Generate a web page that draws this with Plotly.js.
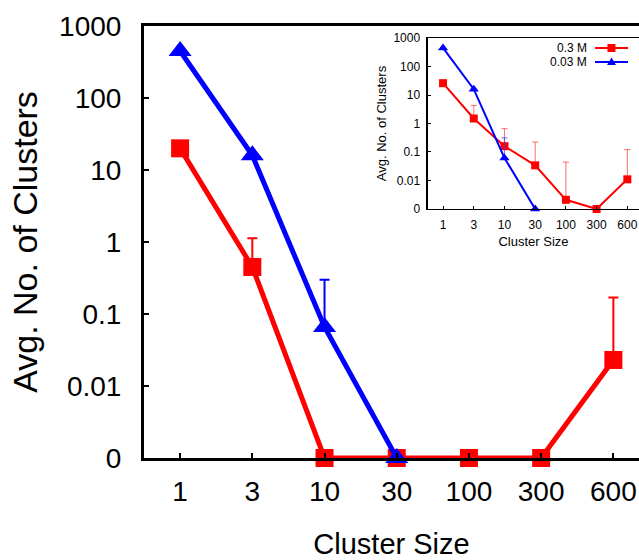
<!DOCTYPE html>
<html><head><meta charset="utf-8">
<script src="https://cdn.plot.ly/plotly-3.0.1.min.js"></script>
<style>html,body{margin:0;padding:0;background:#fff}#chart{width:639px;height:560px}</style>
</head><body><div id="chart"></div>
<script>
// ---- data ----
const categories = ['1', '3', '10', '30', '100', '300', '600'];
const yTickVals = [0.001, 0.01, 0.1, 1, 10, 100, 1000];
const yTickText = ['0', '0.01', '0.1', '1', '10', '100', '1000'];
const seriesNames = ['0.3 M', '0.03 M'];

// main panel
const main03 = [20, 0.45, 0, 0, 0, 0, 0.023];
const main03Err = [null, 0.68, null, null, null, null, 0.147];
const main003 = [450, 16, 0.066, 0, null, null, null];
const main003Err = [null, null, 0.234, null, null, null, null];

// inset panel
const inset03 = [26, 1.5, 0.16, 0.034, 0.0021, 0, 0.011];
const inset03Err = [null, 2.8, 0.5, 0.19, 0.042, null, 0.11];
const inset003 = [450, 16, 0.062, 0, null, null, null];
const inset003Err = [null, null, 0.25, null, null, null, null];

// a zero count sits on the axis floor (the "0" tick)
const ZERO_POS = 0.001;
const toAxis = arr => arr.map(v => v === null ? null : (v === 0 ? ZERO_POS : v));
const minus = arr => arr.map(e => e === null ? null : 0);

const RED = '#ff0000', BLUE = '#0000ff';
const FONT = 'Liberation Sans, Arial, Helvetica, sans-serif';

function trace(y, err, name, color, symbol, msize, lw, ew, ecap, ecolor, xa, ya) {
  return {
    x: categories, y: toAxis(y), name: name, type: 'scatter', mode: 'lines+markers',
    line: {color: color, width: lw},
    marker: {symbol: symbol, size: msize, color: color},
    error_y: {type: 'data', symmetric: false, array: err, arrayminus: minus(err),
              color: ecolor, thickness: ew, width: ecap},
    cliponaxis: false, showlegend: false, xaxis: xa, yaxis: ya
  };
}

const data = [
  trace(main03, main03Err, seriesNames[0], RED, 'square', 18, 5, 2, 5, RED, 'x', 'y'),
  trace(main003, main003Err, seriesNames[1], BLUE, 'triangle-up', 20, 5, 2, 5, BLUE, 'x', 'y'),
  trace(inset03, inset03Err, seriesNames[0], RED, 'square', 8, 2, 1, 3, 'rgba(255,60,60,0.75)', 'x2', 'y2'),
  trace(inset003, inset003Err, seriesNames[1], BLUE, 'triangle-up', 9, 2, 1, 3, 'rgba(60,60,255,0.75)', 'x2', 'y2')
];

// legend keys for the inset (text left, key right)
const legY = [48, 62];            // pixel rows
const px = x => (x - 144) / 495;  // pixel -> paper
const py = y => (458 - y) / 432;
const shapes = [], annotations = [];
[RED, BLUE].forEach((c, i) => {
  shapes.push({type: 'line', xref: 'paper', yref: 'paper', x0: px(595), x1: px(628), y0: py(legY[i]), y1: py(legY[i]),
               line: {color: c, width: 2}});
  if (i === 0) {
    shapes.push({type: 'rect', xref: 'paper', yref: 'paper', xsizemode: 'pixel', ysizemode: 'pixel',
                 xanchor: px(611.5), yanchor: py(legY[i]), x0: -4, x1: 4, y0: -4, y1: 4,
                 fillcolor: c, line: {width: 0}});
  } else {
    shapes.push({type: 'path', xref: 'paper', yref: 'paper', xsizemode: 'pixel', ysizemode: 'pixel',
                 xanchor: px(611.5), yanchor: py(legY[i]), path: 'M -4.5,-3 L 4.5,-3 L 0,4.5 Z',
                 fillcolor: c, line: {width: 0}});
  }
  annotations.push({xref: 'paper', yref: 'paper', x: px(589), y: py(legY[i]), xanchor: 'right', yanchor: 'middle',
                    text: seriesNames[i], showarrow: false, font: {family: FONT, size: 12, color: '#000'}});
});

const layout = {
  width: 639, height: 560,
  margin: {l: 144, r: 0, t: 26, b: 102},
  paper_bgcolor: '#fff', plot_bgcolor: 'rgba(0,0,0,0)',
  font: {family: FONT, color: '#000'},
  showlegend: false,
  xaxis: {
    type: 'category', range: [-0.5, 6.355], domain: [0, 1], anchor: 'y',
    showline: true, linewidth: 3, linecolor: '#000', mirror: true,
    ticks: 'inside', ticklen: 5, tickwidth: 2, tickcolor: '#000',
    showgrid: false, zeroline: false, automargin: false,
    tickfont: {family: FONT, size: 28}, ticklabelstandoff: 6,
    title: {text: 'Cluster Size', font: {family: FONT, size: 29}, standoff: 33}
  },
  yaxis: {
    type: 'log', range: [-3, 3], domain: [0, 1], anchor: 'x',
    tickmode: 'array', tickvals: yTickVals, ticktext: yTickText,
    showline: true, linewidth: 3, linecolor: '#000', mirror: false,
    ticks: 'inside', ticklen: 5, tickwidth: 2, tickcolor: '#000',
    showgrid: false, zeroline: false, automargin: false,
    tickfont: {family: FONT, size: 28}, ticklabelstandoff: 14,
    title: {text: 'Avg. No. of Clusters', font: {family: FONT, size: 34}, standoff: 12}
  },
  xaxis2: {
    type: 'category', range: [-0.49, 6.38], domain: [0.5737, 1], anchor: 'y2',
    showline: true, linewidth: 1.5, linecolor: '#000', mirror: true,
    ticks: 'inside', ticklen: 3, tickwidth: 1, tickcolor: '#000',
    showgrid: false, zeroline: false, automargin: false,
    tickfont: {family: FONT, size: 12}, ticklabelstandoff: 4,
    title: {text: 'Cluster Size', font: {family: FONT, size: 13}, standoff: 6}
  },
  yaxis2: {
    type: 'log', range: [-3, 3], domain: [0.5764, 0.9722], anchor: 'x2',
    tickmode: 'array', tickvals: yTickVals, ticktext: yTickText,
    showline: true, linewidth: 1.5, linecolor: '#000', mirror: false,
    ticks: 'inside', ticklen: 3, tickwidth: 1, tickcolor: '#000',
    showgrid: false, zeroline: false, automargin: false,
    tickfont: {family: FONT, size: 12}, ticklabelstandoff: 4,
    title: {text: 'Avg. No. of Clusters', font: {family: FONT, size: 13}, standoff: 4}
  },
  shapes: shapes,
  annotations: annotations
};

Plotly.newPlot('chart', data, layout, {displayModeBar: false, staticPlot: true});
</script>
</body></html>
